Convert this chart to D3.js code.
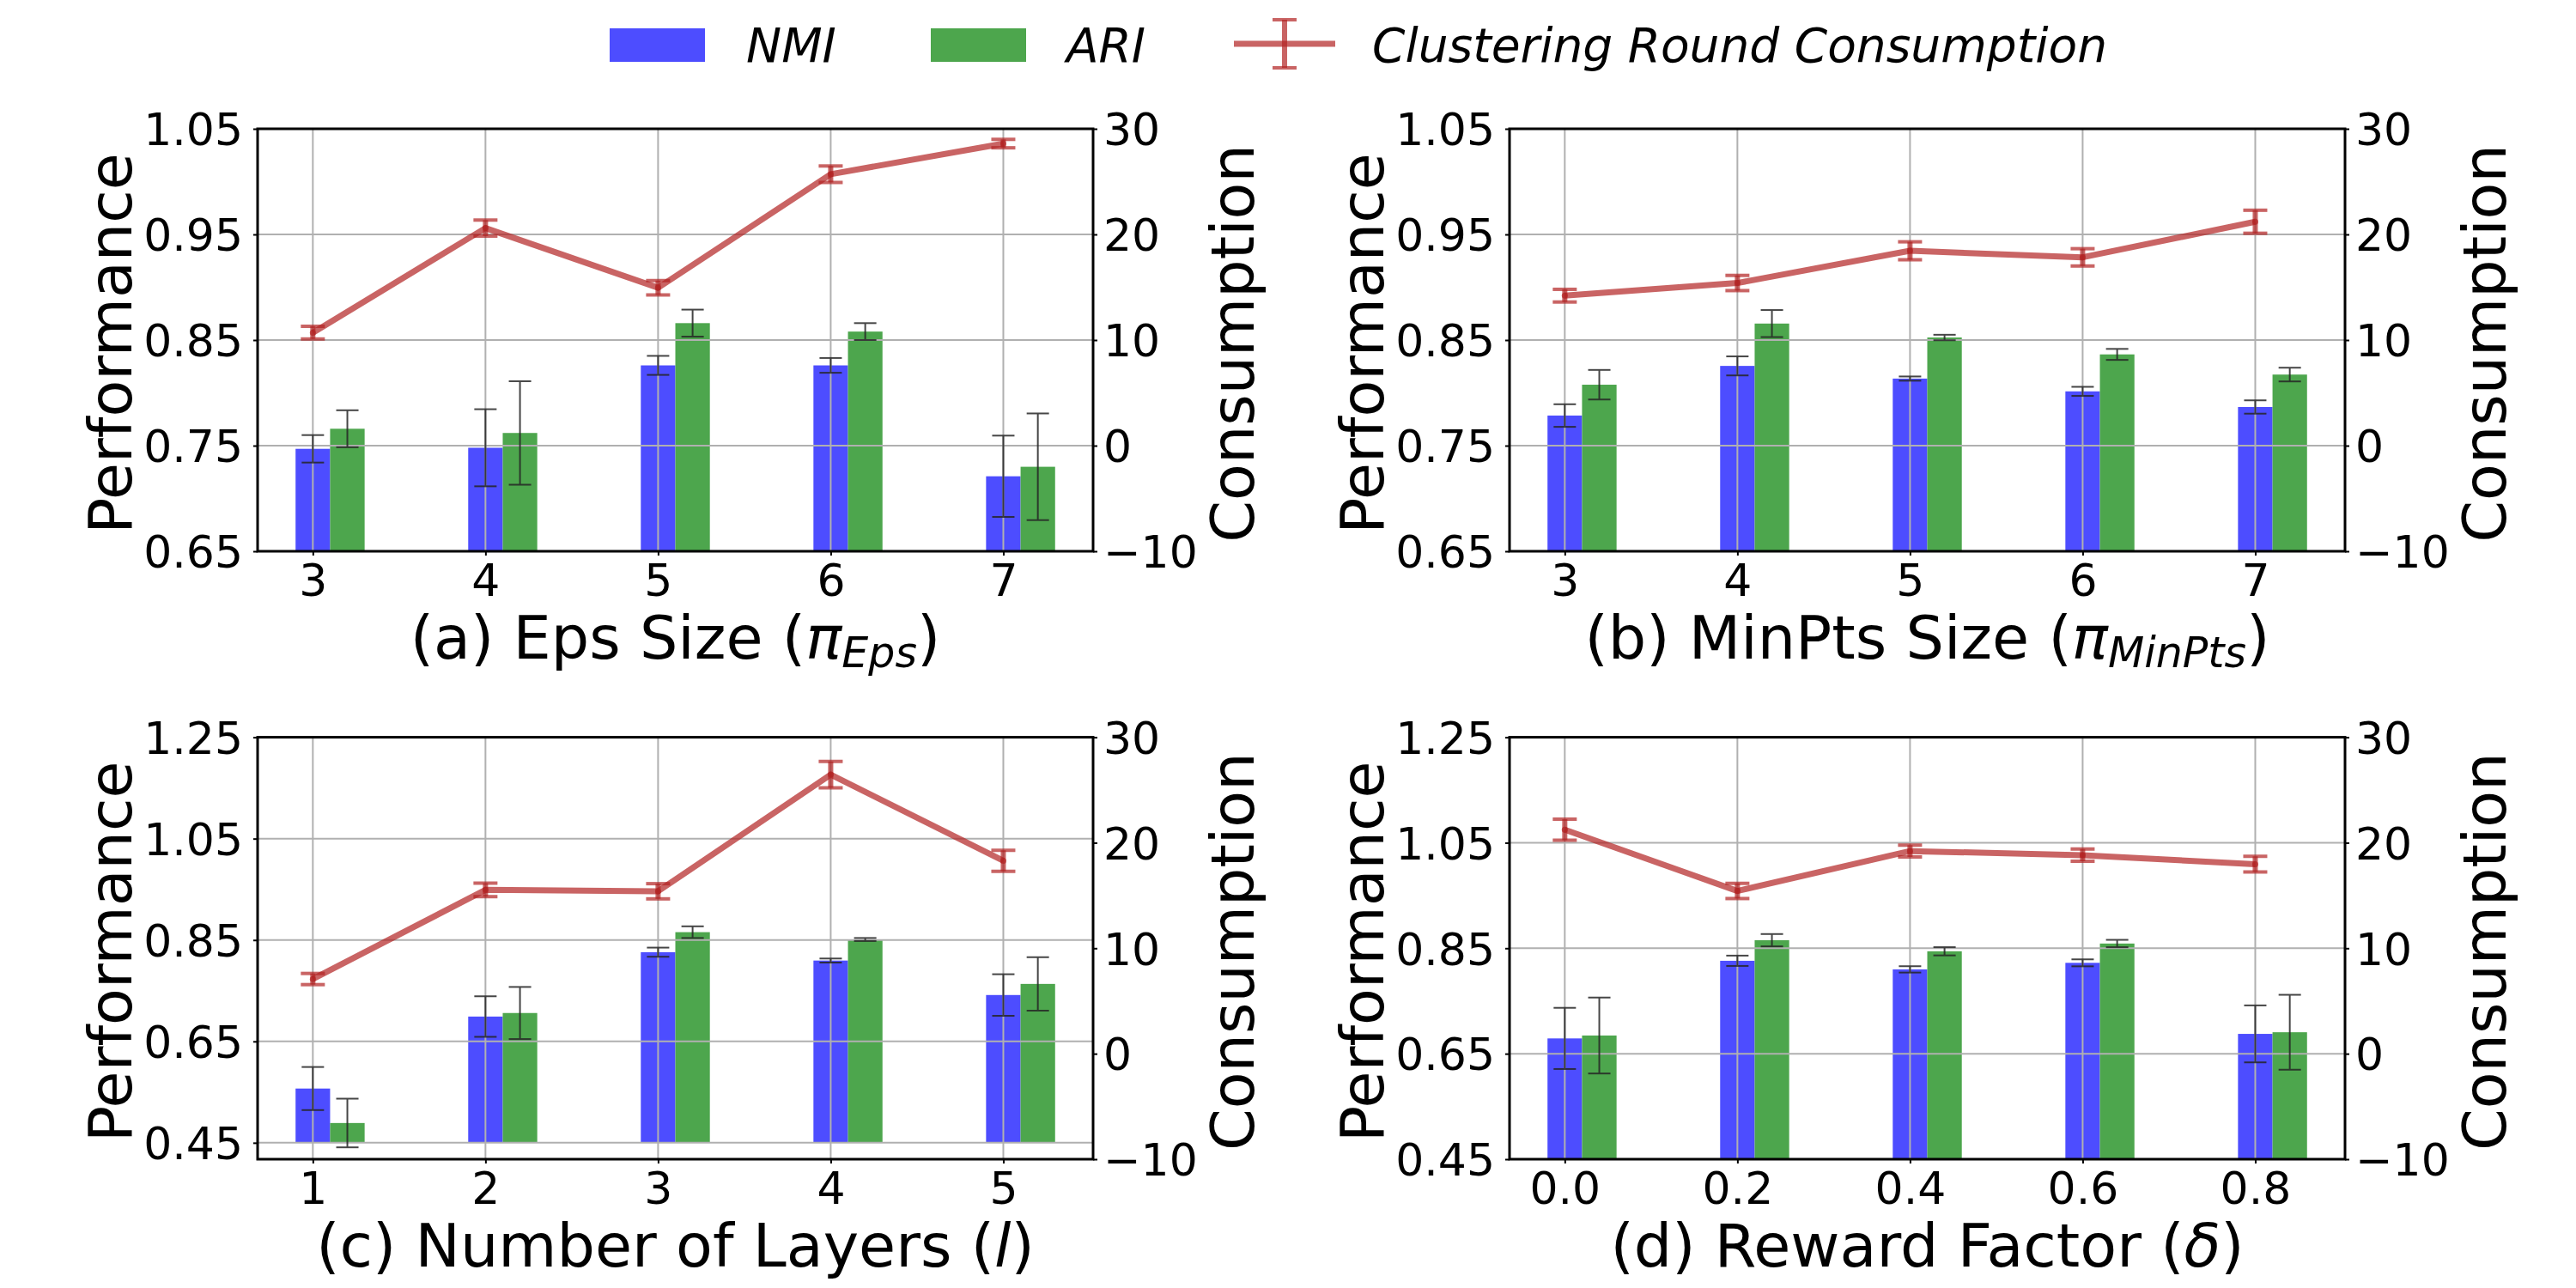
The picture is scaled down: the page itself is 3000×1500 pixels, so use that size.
<!DOCTYPE html>
<html>
<head>
<meta charset="utf-8">
<script src="https://cdn.jsdelivr.net/npm/d3@7/dist/d3.min.js"></script>
<style>
  body { margin: 0; background: #fff; }
  svg { display: block; }
  text { font-family: "DejaVu Sans", sans-serif; fill: #000; }
</style>
</head>
<body>
<svg id="chart" width="3000" height="1500"></svg>
<script>
// ---------------- data ----------------
const categoriesA = ["3", "4", "5", "6", "7"];
const nmiA = [0.747, 0.748, 0.826, 0.826, 0.721];
const nmiErrA = [0.013, 0.0365, 0.009, 0.007, 0.0385];
const ariA = [0.766, 0.762, 0.866, 0.858, 0.730];
const ariErrA = [0.0175, 0.049, 0.0128, 0.008, 0.0505];
const consA = [10.7, 20.6, 14.95, 25.7, 28.6];
const consErrA = [0.6, 0.76, 0.68, 0.78, 0.4];

const categoriesB = ["3", "4", "5", "6", "7"];
const nmiB = [0.7785, 0.8255, 0.8135, 0.8014, 0.7866];
const nmiErrB = [0.0107, 0.009, 0.002, 0.0043, 0.0063];
const ariB = [0.8077, 0.8656, 0.8524, 0.8364, 0.8173];
const ariErrB = [0.014, 0.0128, 0.0026, 0.0052, 0.0065];
const consB = [14.2, 15.4, 18.45, 17.83, 21.2];
const consErrB = [0.6, 0.72, 0.85, 0.82, 1.09];

const categoriesC = ["1", "2", "3", "4", "5"];
const nmiC = [0.557, 0.699, 0.826, 0.8095, 0.7415];
const nmiErrC = [0.0425, 0.040, 0.009, 0.004, 0.041];
const ariC = [0.489, 0.706, 0.8655, 0.851, 0.7634];
const ariErrC = [0.048, 0.0514, 0.0115, 0.003, 0.0527];
const consC = [7.08, 15.53, 15.4, 26.46, 18.29];
const consErrC = [0.53, 0.64, 0.72, 1.25, 1.0];

const categoriesD = ["0.0", "0.2", "0.4", "0.6", "0.8"];
const nmiD = [0.679, 0.8262, 0.8099, 0.8223, 0.6876];
const nmiErrD = [0.058, 0.0098, 0.006, 0.0066, 0.054];
const ariD = [0.6845, 0.8652, 0.8442, 0.8589, 0.6907];
const ariErrD = [0.072, 0.0117, 0.0078, 0.007, 0.071];
const consD = [21.24, 15.43, 19.21, 18.82, 17.97];
const consErrD = [1.0, 0.72, 0.56, 0.58, 0.74];

const perfTicksTop = [0.65, 0.75, 0.85, 0.95, 1.05];
const perfTicksBottom = [0.45, 0.65, 0.85, 1.05, 1.25];
const consTicks = [-10, 0, 10, 20, 30];

const legendLabels = ["NMI", "ARI", "Clustering Round Consumption"];

// ---------------- layout ----------------
const svg = d3.select("#chart");
const BLUE = "rgb(77,77,255)";
const GREEN = "rgb(77,166,77)";
const RED = "#b22222";
const GRID = "#b0b0b0";

const panels = [
  { id: "a", cats: categoriesA, nmi: nmiA, nmiE: nmiErrA, ari: ariA, ariE: ariErrA, cons: consA, consE: consErrA,
    left: 300, right: 1273, top: 150, bottom: 642, perfDomain: [0.65, 1.05], perfTicks: perfTicksTop,
    title: [["(a) Eps Size (", ""], ["π", "i"], ["Eps", "sub"], [")", ""]] },
  { id: "b", cats: categoriesB, nmi: nmiB, nmiE: nmiErrB, ari: ariB, ariE: ariErrB, cons: consB, consE: consErrB,
    left: 1758, right: 2731, top: 150, bottom: 642, perfDomain: [0.65, 1.05], perfTicks: perfTicksTop,
    title: [["(b) MinPts Size (", ""], ["π", "i"], ["MinPts", "sub"], [")", ""]] },
  { id: "c", cats: categoriesC, nmi: nmiC, nmiE: nmiErrC, ari: ariC, ariE: ariErrC, cons: consC, consE: consErrC,
    left: 300, right: 1273, top: 858.6, bottom: 1350, perfDomain: [0.4176, 1.25], perfTicks: perfTicksBottom,
    title: [["(c) Number of Layers (", ""], ["l", "i"], [")", ""]] },
  { id: "d", cats: categoriesD, nmi: nmiD, nmiE: nmiErrD, ari: ariD, ariE: ariErrD, cons: consD, consE: consErrD,
    left: 1758, right: 2731, top: 858.6, bottom: 1350, perfDomain: [0.45, 1.25], perfTicks: perfTicksBottom,
    title: [["(d) Reward Factor (", ""], ["δ", "i"], [")", ""]] }
];

const BAR_W = 0.2;
const BAR_BASE = 0.45;

panels.forEach(p => {
  const n = p.cats.length;
  const x = d3.scaleLinear().domain([-0.32, (n - 1) + 0.52]).range([p.left, p.right]);
  const y = d3.scaleLinear().domain(p.perfDomain).range([p.bottom, p.top]);
  const y2 = d3.scaleLinear().domain([-10, 30]).range([p.bottom, p.top]);
  const idx = d3.range(n);

  const g = svg.append("g");
  const clipId = "clip-" + p.id;
  svg.append("defs").append("clipPath").attr("id", clipId)
    .append("rect").attr("x", p.left).attr("y", p.top)
    .attr("width", p.right - p.left).attr("height", p.bottom - p.top);

  const plot = g.append("g").attr("clip-path", `url(#${clipId})`);

  // bars
  const bars = [
    { vals: p.nmi, errs: p.nmiE, off: 0, color: BLUE },
    { vals: p.ari, errs: p.ariE, off: BAR_W, color: GREEN }
  ];
  bars.forEach(s => {
    plot.selectAll(null).data(idx).enter().append("rect")
      .attr("x", i => x(i + s.off - BAR_W / 2))
      .attr("width", i => x(i + s.off + BAR_W / 2) - x(i + s.off - BAR_W / 2))
      .attr("y", i => y(s.vals[i]))
      .attr("height", i => y(BAR_BASE) - y(s.vals[i]))
      .attr("fill", s.color);
  });

  // grid
  plot.selectAll(null).data(idx).enter().append("line")
    .attr("x1", i => x(i)).attr("x2", i => x(i))
    .attr("y1", p.top).attr("y2", p.bottom)
    .attr("stroke", GRID).attr("stroke-width", 2);
  plot.selectAll(null).data(p.perfTicks).enter().append("line")
    .attr("x1", p.left).attr("x2", p.right)
    .attr("y1", t => y(t)).attr("y2", t => y(t))
    .attr("stroke", GRID).attr("stroke-width", 2);

  // bar error bars
  bars.forEach(s => {
    const eg = plot.append("g").attr("stroke", "#262626").attr("stroke-width", 2).attr("opacity", 0.85);
    idx.forEach(i => {
      const cx = x(i + s.off);
      const y1 = y(s.vals[i] + s.errs[i]);
      const y0 = y(s.vals[i] - s.errs[i]);
      eg.append("line").attr("x1", cx).attr("x2", cx).attr("y1", y1).attr("y2", y0);
      eg.append("line").attr("x1", cx - 13).attr("x2", cx + 13).attr("y1", y1).attr("y2", y1);
      eg.append("line").attr("x1", cx - 13).attr("x2", cx + 13).attr("y1", y0).attr("y2", y0);
    });
  });

  // consumption line
  const line = d3.line().x(i => x(i)).y(i => y2(p.cons[i]));
  plot.append("path").datum(idx).attr("d", line)
    .attr("fill", "none").attr("stroke", RED).attr("stroke-width", 7)
    .attr("stroke-opacity", 0.7).attr("stroke-linejoin", "round");
  idx.forEach(i => {
    const cx = x(i);
    const y1 = y2(p.cons[i] + p.consE[i]);
    const y0 = y2(p.cons[i] - p.consE[i]);
    const eg = plot.append("g").attr("stroke", RED).attr("stroke-opacity", 0.7);
    eg.append("line").attr("x1", cx).attr("x2", cx).attr("y1", y1).attr("y2", y0).attr("stroke-width", 6);
    eg.append("line").attr("x1", cx - 14).attr("x2", cx + 14).attr("y1", y1).attr("y2", y1).attr("stroke-width", 4);
    eg.append("line").attr("x1", cx - 14).attr("x2", cx + 14).attr("y1", y0).attr("y2", y0).attr("stroke-width", 4);
    plot.append("circle").attr("cx", cx).attr("cy", y2(p.cons[i])).attr("r", 3.5)
      .attr("fill", RED).attr("fill-opacity", 0.7);
  });

  // axes
  const axB = d3.axisBottom(x).tickValues(idx).tickFormat(i => p.cats[i])
    .tickSize(5).tickPadding(10).tickSizeOuter(0);
  const axL = d3.axisLeft(y).tickValues(p.perfTicks).tickFormat(d3.format(".2f"))
    .tickSize(5).tickPadding(12).tickSizeOuter(0);
  const axR = d3.axisRight(y2).tickValues(consTicks).tickFormat(d => d < 0 ? "\u2212" + Math.abs(d) : String(d))
    .tickSize(5).tickPadding(7).tickSizeOuter(0);

  [[axB, `translate(0,${p.bottom})`], [axL, `translate(${p.left},0)`], [axR, `translate(${p.right},0)`]]
    .forEach(([ax, tr]) => {
      const a = g.append("g").attr("transform", tr).call(ax);
      a.select(".domain").remove();
      a.selectAll("line").attr("stroke", "#000").attr("stroke-width", 2);
      a.selectAll("text").attr("font-size", 52).attr("font-family", "DejaVu Sans").attr("fill", "#000");
    });
  g.selectAll(".tick text").filter(function () { return this.getAttribute("dy") === "0.32em"; })
    .attr("dy", "0.36em");

  // frame
  g.append("rect").attr("x", p.left).attr("y", p.top)
    .attr("width", p.right - p.left).attr("height", p.bottom - p.top)
    .attr("fill", "none").attr("stroke", "#000").attr("stroke-width", 3);

  // axis labels
  const cy = (p.top + p.bottom) / 2;
  g.append("text").attr("transform", `translate(${p.left - 147},${cy + 4}) rotate(-90)`)
    .attr("text-anchor", "middle").attr("font-size", 70).text("Performance");
  g.append("text").attr("transform", `translate(${p.right + 187},${cy + 4}) rotate(-90)`)
    .attr("text-anchor", "middle").attr("font-size", 70).text("Consumption");

  // subtitle
  const t = g.append("text").attr("x", (p.left + p.right) / 2).attr("y", p.bottom + 125)
    .attr("text-anchor", "middle").attr("font-size", 70);
  p.title.forEach(([s, kind]) => {
    const ts = t.append("tspan").text(s);
    if (kind === "i") ts.attr("font-style", "italic");
    if (kind === "sub") ts.attr("font-style", "italic").attr("font-size", 49).attr("dy", 10);
    if (kind === "" && s === ")" && p.title.some(q => q[1] === "sub")) ts.attr("dy", -10);
  });
});

// ---------------- legend ----------------
const lg = svg.append("g");
lg.append("rect").attr("x", 710).attr("y", 33).attr("width", 111).attr("height", 39).attr("fill", BLUE);
lg.append("text").attr("x", 869).attr("y", 72).attr("font-size", 55).attr("font-style", "italic").text(legendLabels[0]);
lg.append("rect").attr("x", 1084).attr("y", 33).attr("width", 111).attr("height", 39).attr("fill", GREEN);
lg.append("text").attr("x", 1242).attr("y", 72).attr("font-size", 55).attr("font-style", "italic").text(legendLabels[1]);
const rh = lg.append("g").attr("stroke", RED).attr("stroke-opacity", 0.7);
rh.append("line").attr("x1", 1437).attr("x2", 1555).attr("y1", 51).attr("y2", 51).attr("stroke-width", 7);
rh.append("line").attr("x1", 1496).attr("x2", 1496).attr("y1", 23).attr("y2", 79).attr("stroke-width", 6);
rh.append("line").attr("x1", 1482).attr("x2", 1510).attr("y1", 23).attr("y2", 23).attr("stroke-width", 4);
rh.append("line").attr("x1", 1482).attr("x2", 1510).attr("y1", 79).attr("y2", 79).attr("stroke-width", 4);
lg.append("text").attr("x", 1598).attr("y", 72).attr("font-size", 55).attr("font-style", "italic").text(legendLabels[2]);
</script>
</body>
</html>
